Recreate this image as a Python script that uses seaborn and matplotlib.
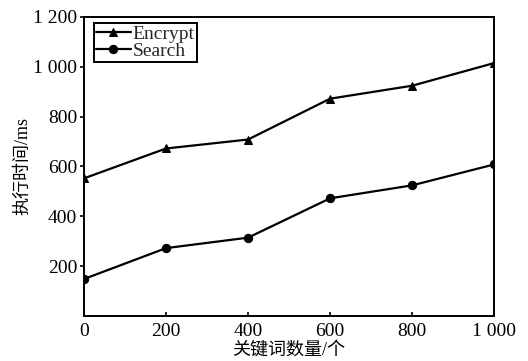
import pandas as pd
import matplotlib.pyplot as plt
import matplotlib.ticker as mticker
import seaborn as sns

# Data
keywords = [0, 200, 400, 600, 800, 1000]
encrypt_ms = [552, 672, 708, 872, 924, 1015]
search_ms = [148, 272, 314, 472, 524, 608]

df = pd.DataFrame({
    'keywords': keywords * 2,
    'time': encrypt_ms + search_ms,
    'method': ['Encrypt'] * len(keywords) + ['Search'] * len(keywords),
})

sns.set_theme(style='ticks')
plt.rcParams['font.family'] = ['Liberation Serif', 'Noto Sans CJK SC']
plt.rcParams['axes.linewidth'] = 1.4

fig = plt.figure(figsize=(5.28, 3.61), dpi=100)
ax = fig.add_axes([0.159, 0.125, 0.777, 0.828])

sns.lineplot(data=df, x='keywords', y='time', hue='method', style='method',
             palette={'Encrypt': 'black', 'Search': 'black'},
             markers={'Encrypt': '^', 'Search': 'o'}, dashes=False,
             markersize=6, linewidth=1.6, markeredgecolor='black', ax=ax)

ax.set_xlim(0, 1000)
ax.set_ylim(0, 1200)
ax.set_xticks([0, 200, 400, 600, 800, 1000])
ax.set_yticks([200, 400, 600, 800, 1000, 1200])
fmt = mticker.FuncFormatter(lambda v, p: f'{int(v):,}'.replace(',', ' '))
ax.xaxis.set_major_formatter(fmt)
ax.yaxis.set_major_formatter(fmt)
ax.tick_params(axis='x', direction='in', length=3, width=1.2, labelsize=14, pad=5, colors='black')
ax.tick_params(axis='y', direction='out', length=3, width=1.2, labelsize=14, pad=2, colors='black')
for s in ax.spines.values():
    s.set_visible(True)
    s.set_color('black')

ax.set_xlabel('关键词数量/个', fontsize=13, labelpad=1, color='black')
ax.set_ylabel('执行时间/ms', fontsize=13, labelpad=1, color='black')

# Legend: square black frame, short handles, tight rows
leg = ax.legend(loc='upper left', bbox_to_anchor=(0.024, 0.98), fontsize=14,
                frameon=True, fancybox=False, edgecolor='black',
                handlelength=1.8, handletextpad=0.1, borderpad=0.1,
                labelspacing=0.0, borderaxespad=0)
leg.get_frame().set_linewidth(1.4)
leg.get_frame().set_alpha(1)

fig.savefig('out.png', dpi=100)
